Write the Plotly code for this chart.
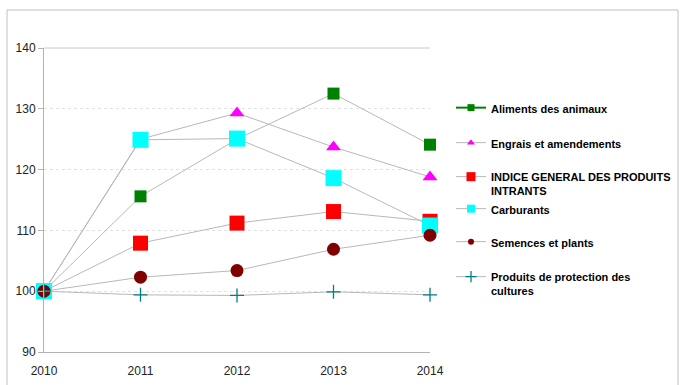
import plotly.graph_objects as go

years = [2010, 2011, 2012, 2013, 2014]
aliments = [100, 115.6, 125.0, 132.5, 124.1]
engrais = [100, 125.0, 129.3, 123.7, 118.8]
indice = [100, 107.9, 111.2, 113.1, 111.5]
carburants = [100, 124.9, 125.1, 118.6, 110.8]
semences = [100, 102.3, 103.4, 106.9, 109.2]
protection = [100, 99.4, 99.3, 99.9, 99.4]

names = ["Aliments des animaux", "Engrais et amendements",
         "INDICE GENERAL DES PRODUITS<br>INTRANTS", "Carburants",
         "Semences et plants", "Produits de protection des<br>cultures"]
y_ticks = [90, 100, 110, 120, 130, 140]

FONT = "Liberation Sans, Arial, sans-serif"
LINE = "#b8b8b8"

series = [
    (aliments, dict(symbol="square", size=12, color="#008000"), dict(color="#008000", width=2), 7),
    (engrais, dict(symbol="triangle-up", size=13, color="#ff00ff"), dict(color=LINE, width=1), 7),
    (indice, dict(symbol="square", size=15, color="#ff0000"), dict(color=LINE, width=1), 9),
    (carburants, dict(symbol="square", size=16, color="#00ffff"), dict(color=LINE, width=1), 8),
    (semences, dict(symbol="circle", size=13, color="#800000"), dict(color=LINE, width=1), 6),
    (protection, dict(symbol="cross-thin", size=10, color="#008080",
                      line=dict(color="#008080", width=1.3)), dict(color=LINE, width=1), 8),
]

fig = go.Figure()
legend_ids = ["legend", "legend2", "legend3", "legend4", "legend5", "legend6"]
for i, (vals, mk, leg_line, leg_size) in enumerate(series):
    fig.add_trace(go.Scatter(
        x=years, y=vals, mode="lines+markers", name=names[i],
        line=dict(color=LINE, width=1), marker=mk, showlegend=False,
        cliponaxis=False, hoverinfo="x+y+name"))
for i, (vals, mk, leg_line, leg_size) in enumerate(series):
    lm = dict(mk)
    lm["size"] = leg_size
    fig.add_trace(go.Scatter(
        x=[None], y=[None], mode="lines+markers", name=names[i],
        line=leg_line, marker=lm, showlegend=True, legend=legend_ids[i]))

# legend placement (pixel rows of first text line)
rows = [104, 139, 173, 205, 238, 273]
def py(p):
    return (352 - p) / 304.0

layout_legends = {}
for i, lid in enumerate(legend_ids):
    layout_legends[lid] = dict(
        x=(451 - 44) / 386.0, xanchor="left",
        y=py(rows[i] - 10), yanchor="top", valign="top",
        bgcolor="rgba(0,0,0,0)", borderwidth=0,
        font=dict(family=FONT, size=11, color="#000000", weight="bold"),
        itemclick=False, itemdoubleclick=False)

fig.update_layout(
    width=683, height=385,
    margin=dict(l=44, r=253, t=48, b=33, autoexpand=False),
    paper_bgcolor="white", plot_bgcolor="white",
    font=dict(family=FONT, size=12, color="#222222"),
    **layout_legends,
    xaxis=dict(range=[2010, 2014], tickmode="array", tickvals=years,
               ticktext=[str(y) for y in years], automargin=False,
               showgrid=False, zeroline=False, showline=True,
               linecolor="#b3b3b3", linewidth=1,
               ticks="outside", ticklen=8, tickcolor="rgba(0,0,0,0)",
               tickfont=dict(family=FONT, size=12, color="#222222")),
    yaxis=dict(range=[90, 140], tickmode="array", tickvals=y_ticks,
               automargin=False,
               showgrid=True, gridcolor="#e2e2e2", griddash="dot", gridwidth=1,
               zeroline=False, showline=True, linecolor="#b3b3b3", linewidth=1,
               ticks="outside", ticklen=5, tickcolor="#b3b3b3",
               tickfont=dict(family=FONT, size=12, color="#222222")),
    shapes=[
        dict(type="line", xref="paper", yref="paper", x0=0, x1=1, y0=1, y1=1,
             line=dict(color="#c8c8c8", width=1), layer="below"),
        dict(type="rect", xref="paper", yref="paper",
             x0=(7 - 44) / 386.0, x1=(678 - 44) / 386.0,
             y0=py(400), y1=py(10),
             line=dict(color="#c0c0c0", width=1), layer="below"),
    ],
)

fig.write_html("out.html")
